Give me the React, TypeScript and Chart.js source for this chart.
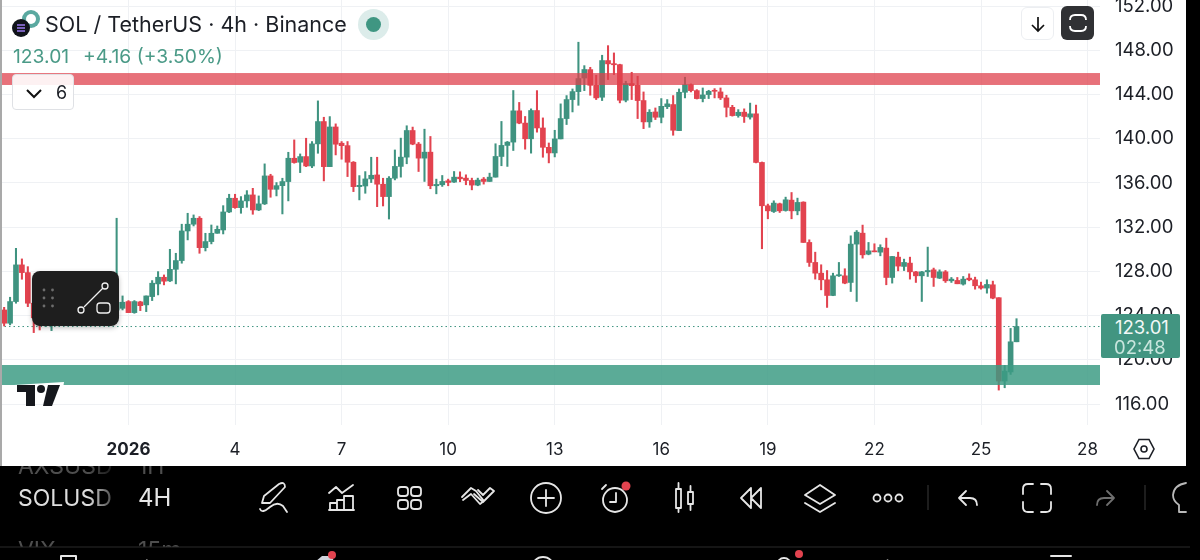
import { useEffect, useRef } from "react";
import { Chart, registerables } from "chart.js";

Chart.register(...registerables);

const FONT = "Inter, sans-serif";
const UP = "#3f9380";
const DOWN = "#e2434f";

// first candle sits 21 bars before 1 Jan 2026
const firstIndex = -21;

const opens = [
  124.51, 123.31, 125.27, 128.59, 127.89, 125.12, 123.8, 123.3, 123.2, 124.2,
  124.8, 125.4, 125.0, 125.6, 125.2, 124.7, 125.1, 124.6, 125.0, 124.5,
  124.66, 125.27, 124.27, 125.24, 124.97, 125.72, 126.87, 127.47, 127.14, 128.19,
  128.98, 131.66, 132.27, 132.81, 130.15, 130.7, 131.45, 131.75, 133.38, 134.62,
  133.77, 134.38, 134.92, 133.56, 134.11, 136.64, 135.43, 135.76, 136.13, 138.24,
  137.88, 138.39, 137.54, 139.54, 141.56, 137.48, 141.07, 139.6, 139.38, 137.88,
  135.67, 135.73, 136.37, 136.73, 135.89, 134.77, 136.43, 137.5, 138.34, 140.75,
  139.52, 138.25, 138.79, 135.75, 135.84, 136.2, 136.08, 136.53, 136.44, 136.23,
  135.81, 136.35, 136.14, 136.53, 138.4, 139.4, 139.7, 142.53, 141.42, 140.0,
  142.56, 140.98, 139.23, 138.72, 139.99, 141.83, 143.55, 144.27, 145.5, 146.26,
  144.84, 143.76, 147.08, 146.8, 146.71, 143.49, 145.0, 144.84, 143.46, 141.53,
  142.43, 141.95, 142.91, 143.1, 140.74, 144.21, 144.9, 144.36, 143.64, 144.0,
  144.36, 144.24, 143.7, 142.85, 142.1, 142.41, 141.96, 142.26, 137.86, 133.94,
  133.42, 134.12, 133.51, 134.45, 133.48, 134.27, 130.62, 128.81, 127.84, 127.24,
  125.82, 127.6, 127.6, 127.0, 130.47, 131.46, 129.56, 129.86, 129.74, 130.11,
  127.45, 129.29, 128.45, 128.75, 127.96, 127.6, 127.96, 128.14, 127.39, 127.96,
  127.15, 127.18, 126.85, 127.39, 127.24, 126.7, 126.49, 126.79, 125.62, 118.08,
  118.9, 121.63,
];
const highs = [
  124.75, 125.66, 130.09, 129.13, 128.43, 125.5, 124.3, 124.4, 124.6, 125.2,
  125.9, 125.8, 126.0, 126.0, 125.6, 125.5, 125.4, 125.4, 125.3, 132.81,
  125.78, 125.36, 125.36, 125.3, 125.78, 127.17, 127.98, 127.68, 130.0, 129.64,
  132.27, 133.26, 133.11, 132.96, 131.45, 132.2, 132.11, 133.95, 134.98, 134.98,
  134.77, 135.31, 135.52, 134.83, 137.73, 136.79, 136.04, 136.43, 138.78, 139.9,
  138.63, 140.05, 139.75, 143.43, 141.95, 142.01, 141.35, 139.75, 139.75, 137.94,
  136.67, 137.03, 138.33, 138.33, 136.43, 136.58, 138.99, 140.06, 141.18, 141.06,
  139.67, 140.87, 140.21, 136.35, 136.68, 136.35, 137.04, 137.01, 136.74, 136.44,
  136.44, 136.5, 136.89, 139.55, 141.57, 139.76, 144.37, 143.29, 142.02, 142.71,
  144.36, 141.89, 139.62, 140.77, 143.16, 143.91, 144.51, 148.74, 146.62, 146.47,
  145.75, 147.56, 148.43, 147.77, 146.75, 145.21, 146.02, 145.66, 144.24, 142.64,
  142.79, 143.64, 143.55, 143.91, 144.51, 145.57, 144.97, 144.45, 144.6, 144.39,
  144.54, 144.6, 143.94, 143.03, 142.64, 142.71, 143.23, 143.05, 137.9, 134.09,
  134.39, 134.18, 134.72, 135.14, 134.63, 134.3, 130.86, 129.74, 128.6, 128.08,
  127.84, 128.81, 128.24, 131.22, 131.7, 132.19, 130.62, 130.5, 130.41, 131.01,
  129.35, 129.74, 129.11, 129.29, 128.0, 128.0, 130.2, 128.3, 128.14, 128.08,
  127.45, 127.45, 127.54, 127.78, 127.48, 127.03, 127.24, 127.12, 125.62, 119.49,
  122.84, 123.72,
];
const lows = [
  123.06, 123.16, 125.12, 127.29, 124.81, 122.46, 122.7, 123.0, 122.64, 123.8,
  124.5, 124.7, 124.8, 124.9, 124.4, 124.3, 124.2, 124.3, 124.3, 124.1,
  124.51, 124.27, 124.21, 124.45, 124.36, 125.36, 125.87, 126.78, 127.08, 126.87,
  128.74, 130.85, 132.11, 129.64, 129.85, 130.49, 131.45, 131.39, 133.32, 133.71,
  133.26, 133.8, 133.17, 133.5, 134.05, 134.71, 134.83, 133.2, 134.38, 137.79,
  136.94, 137.48, 137.39, 138.69, 136.19, 137.48, 138.54, 138.15, 136.58, 135.22,
  134.47, 135.07, 136.04, 133.86, 133.92, 132.74, 136.28, 136.53, 137.74, 139.46,
  137.04, 136.14, 135.48, 135.02, 135.69, 135.75, 136.05, 136.11, 135.84, 135.38,
  135.75, 135.9, 136.14, 136.53, 137.56, 137.5, 138.94, 141.36, 139.06, 138.7,
  140.6, 138.33, 137.82, 138.36, 139.99, 141.29, 142.43, 143.03, 144.36, 143.94,
  143.55, 143.46, 145.36, 145.81, 143.25, 143.34, 143.55, 141.83, 140.92, 141.04,
  141.74, 141.44, 142.73, 140.32, 140.74, 143.7, 144.24, 143.6, 143.34, 143.64,
  143.7, 143.55, 141.98, 142.05, 141.95, 141.48, 141.78, 137.82, 130.05, 132.76,
  133.33, 133.33, 133.45, 132.76, 133.12, 130.62, 128.45, 127.3, 126.33, 124.74,
  125.8, 127.54, 126.88, 126.18, 125.28, 129.2, 129.5, 129.77, 129.41, 126.79,
  126.94, 128.05, 128.08, 127.3, 127.0, 125.28, 127.54, 126.64, 127.35, 127.0,
  127.0, 126.88, 126.76, 127.15, 126.39, 126.39, 126.03, 125.52, 117.26, 117.47,
  118.68, 121.63,
];
const closes = [
  123.31, 125.27, 128.59, 127.89, 125.12, 123.8, 123.3, 123.9, 124.2, 124.8,
  125.4, 125.0, 125.6, 125.2, 124.7, 125.1, 124.6, 125.0, 124.7, 125.2,
  125.21, 124.27, 125.27, 124.9, 125.78, 126.93, 127.47, 127.11, 128.19, 128.98,
  131.66, 132.27, 132.81, 130.15, 130.7, 131.45, 131.81, 133.38, 134.62, 133.77,
  134.38, 134.92, 133.56, 134.11, 136.64, 135.43, 135.76, 136.13, 138.24, 137.85,
  138.39, 137.54, 139.54, 141.56, 137.48, 141.07, 139.51, 139.38, 137.88, 135.67,
  135.79, 136.37, 136.7, 135.89, 134.77, 136.43, 137.5, 138.34, 140.75, 139.52,
  138.25, 138.79, 135.75, 135.87, 136.14, 136.05, 136.53, 136.38, 136.23, 135.81,
  136.26, 136.14, 136.53, 138.4, 139.4, 139.7, 142.53, 141.42, 140.0, 142.56,
  140.98, 139.23, 138.72, 139.99, 141.83, 143.55, 144.27, 145.45, 146.27, 144.84,
  143.7, 147.08, 146.78, 146.7, 143.49, 145.0, 144.81, 143.46, 141.53, 142.4,
  141.95, 142.94, 143.16, 140.77, 144.21, 144.9, 144.36, 143.64, 143.97, 144.3,
  144.3, 143.7, 142.85, 142.1, 142.4, 142.02, 142.26, 137.86, 133.94, 133.48,
  134.18, 133.48, 134.48, 133.48, 134.24, 130.62, 128.81, 127.84, 127.24, 125.82,
  127.6, 127.7, 126.94, 130.47, 131.55, 129.5, 129.86, 129.77, 130.17, 127.45,
  129.35, 128.48, 128.81, 127.96, 127.6, 127.96, 128.08, 127.45, 127.96, 127.15,
  127.3, 126.88, 127.3, 127.24, 126.7, 126.49, 126.82, 125.58, 118.08, 118.98,
  121.63, 123.01,
];

const lastPrice = 123.01;
const priceTicks = [116, 120, 124, 128, 132, 136, 140, 144, 148, 152];
const dayTicks = [0, 18, 36, 54, 72, 90, 108, 126, 144, 162];
const dayLabels = ["2026", "4", "7", "10", "13", "16", "19", "22", "25", "28"];
const resistanceZone = [144.87, 145.95];
const supportZone = [117.72, 119.53];

const xMin = -21.7;
const xMax = 164.1;

const zonesPlugin = {
  id: "zones",
  afterDatasetsDraw(chart: Chart) {
    const { ctx, chartArea, scales } = chart;
    const band = (zone: number[], color: string) => {
      const top = scales.y.getPixelForValue(zone[1]);
      const bottom = scales.y.getPixelForValue(zone[0]);
      ctx.fillStyle = color;
      ctx.fillRect(chartArea.left, top, chartArea.right - chartArea.left, bottom - top);
    };
    ctx.save();
    band(resistanceZone, "rgba(223,63,75,0.74)");
    band(supportZone, "rgba(59,155,131,0.84)");
    ctx.restore();
  },
};

function CandleChart() {
  const ref = useRef<HTMLCanvasElement>(null);

  useEffect(() => {
    if (!ref.current) return;
    const xs = opens.map((_, i) => firstIndex + i);
    const colors = opens.map((o, i) => (closes[i] >= o ? UP : DOWN));
    const chart = new Chart(ref.current, {
      type: "bar",
      data: {
        datasets: [
          {
            type: "line",
            data: [
              { x: xMin, y: lastPrice },
              { x: xMax, y: lastPrice },
            ],
            borderColor: UP,
            borderWidth: 1,
            borderDash: [1.5, 3],
            pointRadius: 0,
            order: 3,
          },
          {
            data: xs.map((x, i) => ({ x, y: [lows[i], highs[i]] })),
            backgroundColor: colors,
            barThickness: 1.4,
            grouped: false,
            order: 2,
          },
          {
            data: xs.map((x, i) => ({ x, y: [Math.min(opens[i], closes[i]), Math.max(opens[i], closes[i])] })),
            backgroundColor: colors,
            barThickness: 5,
            minBarLength: 1,
            grouped: false,
            order: 1,
          },
        ] as any,
      },
      options: {
        responsive: false,
        animation: false,
        layout: { padding: 0 },
        plugins: { legend: { display: false }, tooltip: { enabled: false } },
        scales: {
          x: {
            type: "linear",
            offset: false,
            min: xMin,
            max: xMax,
            afterBuildTicks: (s: any) => {
              s.ticks = dayTicks.map((value) => ({ value }));
            },
            afterFit: (s: any) => {
              s.height = 41;
            },
            grid: { color: "#eff1f4", drawTicks: false, offset: false },
            border: { display: false },
            ticks: {
              autoSkip: false,
              maxRotation: 0,
              padding: 15,
              color: "#1c1f26",
              font: (c: any) => ({
                family: FONT,
                size: 17,
                weight: c.tick && c.tick.value === 0 ? "bold" : "normal",
              }),
              callback: (v: any) => dayLabels[dayTicks.indexOf(v)],
            },
          },
          y: {
            position: "right",
            min: 114.1,
            max: 152.56,
            afterBuildTicks: (s: any) => {
              s.ticks = priceTicks.map((value) => ({ value }));
            },
            afterFit: (s: any) => {
              s.width = 86;
              s.paddingTop = 0;
              s.paddingBottom = 0;
            },
            grid: { color: "#eff1f4", drawTicks: false },
            border: { display: false },
            ticks: {
              padding: 15,
              color: "#1c1f26",
              font: { family: FONT, size: 18.5 },
              callback: (v: any) => Number(v).toFixed(2),
            },
          },
        },
      },
      plugins: [zonesPlugin],
    });
    return () => chart.destroy();
  }, []);

  return <canvas ref={ref} width={1186} height={466} style={{ position: "absolute", left: 0, top: 0, width: 1186, height: 466, display: "block" }} />;
}

function Label({ x, y, size, color, weight, children }: any) {
  return (
    <div
      style={{
        position: "absolute",
        left: x,
        top: y,
        fontSize: size,
        color,
        fontWeight: weight ?? 400,
        lineHeight: 1,
        whiteSpace: "nowrap",
        transform: "translateY(-50%)",
      }}
    >
      {children}
    </div>
  );
}

function ToolbarIcons() {
  const s = { fill: "none", stroke: "#e6e6e6", strokeWidth: 1.8, strokeLinecap: "round", strokeLinejoin: "round" } as any;
  return (
    <svg width={1200} height={560} style={{ position: "absolute", left: 0, top: 0 }}>
      {/* pen */}
      <path {...s} d="M262 503 L264 496 L279 484 Q285 481 285 487 L270 503 Z M260 509 Q262 514 270 507 Q277 501 283 506 L287 512" />
      {/* indicators */}
      <path {...s} d="M329 493 L336 487 L342 493 L353 485 M330 510 V503 H337 V510 M337 510 V500 H344 V510 M344 510 V496 H353 V510 M329 510 H354" />
      {/* apps */}
      <rect {...s} x={398} y={487} width={10} height={9} rx={3} />
      <rect {...s} x={411} y={487} width={10} height={9} rx={3} />
      <rect {...s} x={398} y={500} width={10} height={9} rx={3} />
      <rect {...s} x={411} y={500} width={10} height={9} rx={3} />
      {/* compare */}
      <path {...s} d="M463 500 L471 494 L480 504 L484 501 L476 491 L471 488 L462 497 M474 494 L483 502 L494 491 L490 488 L483 495 L478 490" />
      {/* add */}
      <circle {...s} cx={546} cy={498} r={15} />
      <path {...s} d="M546 490 V506 M538 498 H554" />
      {/* alert */}
      <circle {...s} cx={615} cy={500} r={12} />
      <path {...s} d="M616 493 V502 H610 M602 489 L606 485" />
      <circle cx={626} cy={486} r={4.5} fill="#e2434f" />
      {/* candles */}
      <path {...s} d="M676 489 H681 V508 H676 Z M678.5 489 V483 M678.5 508 V512 M688 492 H693 V504 H688 Z M690.5 492 V486 M690.5 504 V510" />
      {/* replay */}
      <path {...s} d="M751 488 L741 498 L751 508 Z M761 488 L751 498 L761 508 Z" />
      {/* layers */}
      <path {...s} d="M820 485 L835 495 L820 504 L805 495 Z M805 503 L820 512 L835 503" />
      {/* more */}
      <circle {...s} cx={877} cy={498} r={3.5} />
      <circle {...s} cx={888} cy={498} r={3.5} />
      <circle {...s} cx={899} cy={498} r={3.5} />
      <path d="M928 485 V510" stroke="#3a3a3a" strokeWidth={1} />
      {/* undo */}
      <path {...s} d="M966 491 L959 498 L966 505 M959 498 H970 Q977 498 977 505" />
      {/* fullscreen */}
      <path {...s} d="M1023 494 V489 Q1023 484 1028 484 H1033 M1041 484 H1046 Q1051 484 1051 489 V494 M1023 502 V507 Q1023 512 1028 512 H1033 M1041 512 H1046 Q1051 512 1051 507 V502" />
      {/* redo */}
      <path {...s} stroke="#6f6f6f" d="M1107 491 L1114 498 L1107 505 M1114 498 H1104 Q1097 498 1097 505" />
      <path d="M1145 485 V510" stroke="#3a3a3a" strokeWidth={1} />
      {/* bulb */}
      <path {...s} d="M1186 483 Q1174 485 1173 495 Q1173 501 1179 505 V512 H1186" stroke="#b9b9b9" />
      {/* bottom nav */}
      <rect {...s} x={61} y={556} width={15} height={14} strokeWidth={2} />
      <path d="M315 562 L322 556 L332 556 L334 562 Z" fill="#cfd3dc" />
      <circle cx={332} cy={555} r={4} fill="#e2434f" />
      <circle {...s} cx={543} cy={568} r={11} />
      <circle {...s} cx={784} cy={565} r={7} />
      <circle cx={799} cy={554} r={4} fill="#e2434f" />
      <path {...s} d="M1051 556 H1071" strokeWidth={2} />
      <path d="M0 547 H1190" stroke="#2a2a2a" strokeWidth={1} />
    </svg>
  );
}

export default function App() {
  return (
    <div style={{ position: "absolute", left: 0, top: 0, width: 1200, height: 560, background: "#000", overflow: "hidden", fontFamily: FONT }}>
      <div style={{ position: "absolute", left: 0, top: 0, width: 1186, height: 466, background: "#fff" }} />
      <CandleChart />
      <div style={{ position: "absolute", left: 0, top: 0, width: 1.5, height: 466, background: "#a9a9a9" }} />

      {/* legend */}
      <svg width={40} height={40} style={{ position: "absolute", left: 10, top: 8 }}>
        <circle cx={21} cy={11} r={9} fill="#5aa9a0" />
        <circle cx={21} cy={11} r={5} fill="#fff" />
        <circle cx={11} cy={20} r={9} fill="#10131a" />
        <path d="M7 17 H15 M7 20 H15 M7 23 H15" stroke="#9a7bf0" strokeWidth={1.6} />
      </svg>
      <Label x={45} y={25} size={21.5} color="#1c1f26">SOL / TetherUS · 4h · Binance</Label>
      <Label x={13} y={57} size={19.3} color="#4a9a87">123.01</Label>
      <Label x={83} y={57} size={19.3} color="#4a9a87">+4.16 (+3.50%)</Label>
      <div style={{ position: "absolute", left: 358, top: 9, width: 31, height: 31, borderRadius: "50%", background: "#dcecea" }} />
      <div style={{ position: "absolute", left: 366, top: 17, width: 15, height: 15, borderRadius: "50%", background: "#3f9682" }} />

      <div style={{ position: "absolute", left: 12, top: 74, width: 62, height: 36, background: "rgba(255,255,255,0.9)", border: "1px solid #dfe1e5", borderRadius: 4, boxSizing: "border-box" }} />
      <svg width={20} height={12} style={{ position: "absolute", left: 25, top: 88 }}>
        <path d="M2 2 L9 9 L16 2" fill="none" stroke="#111" strokeWidth={2} />
      </svg>
      <Label x={56} y={93} size={18} color="#1c1f26">6</Label>

      {/* top-right buttons */}
      <div style={{ position: "absolute", left: 1021, top: 7, width: 33, height: 33, background: "#fff", border: "1px solid #eceef1", borderRadius: 6, boxSizing: "border-box" }} />
      <svg width={16} height={18} style={{ position: "absolute", left: 1030, top: 16 }}>
        <path d="M8 1 V15 M2 9 L8 15 L14 9" fill="none" stroke="#111" strokeWidth={1.7} />
      </svg>
      <div style={{ position: "absolute", left: 1061, top: 6, width: 33, height: 34, background: "#303134", borderRadius: 6 }} />
      <svg width={18} height={18} style={{ position: "absolute", left: 1069, top: 14 }}>
        <path d="M1 6 Q1 1 6 1 H12 Q17 1 17 6 M1 12 Q1 17 6 17 H12 Q17 17 17 12" fill="none" stroke="#fff" strokeWidth={1.8} />
      </svg>

      {/* drawing tool */}
      <div style={{ position: "absolute", left: 32, top: 271, width: 87, height: 55, background: "#1e1e1e", borderRadius: 8, boxShadow: "0 2px 5px rgba(0,0,0,0.25)" }} />
      <svg width={87} height={55} style={{ position: "absolute", left: 32, top: 271 }}>
        {[0, 1, 2].map((r) => [0, 1].map((c) => <circle key={r + "-" + c} cx={12 + c * 8.5} cy={19 + r * 8} r={1.4} fill="#6d6d6d" />))}
        <path d="M52 36 L71 17" stroke="#f0f0f0" strokeWidth={1.3} />
        <circle cx={49} cy={39} r={3} fill="none" stroke="#f0f0f0" strokeWidth={1.3} />
        <circle cx={73} cy={15} r={3} fill="none" stroke="#f0f0f0" strokeWidth={1.3} />
        <rect x={65} y={32} width={13} height={10} rx={3} fill="none" stroke="#f0f0f0" strokeWidth={1.3} />
      </svg>

      {/* TV logo */}
      <svg width={52} height={28} style={{ position: "absolute", left: 13, top: 381 }}>
        <path d="M1 4 L51 1 L50 8 H1 Z" fill="#fff" />
        <path d="M4 4 H22 V25 H13 V11 H4 Z" fill="#16181d" />
        <circle cx={28} cy={8} r={4} fill="#16181d" />
        <path d="M35 4 H47 L39 25 H30 Z" fill="#16181d" />
      </svg>

      {/* last price tag */}
      <div style={{ position: "absolute", left: 1101, top: 314, width: 79, height: 44, background: "#429581", borderRadius: 2 }} />
      <Label x={1115} y={327} size={18.5} color="#f2f8f6">123.01</Label>
      <Label x={1114} y={347} size={18.5} color="#c9e6de">02:48</Label>

      {/* settings hexagon */}
      <svg width={24} height={24} style={{ position: "absolute", left: 1132, top: 437 }}>
        <path d="M7 2.5 H17 L22 12 L17 21.5 H7 L2 12 Z" fill="none" stroke="#1c1f26" strokeWidth={1.6} />
        <circle cx={12} cy={12} r={3} fill="none" stroke="#1c1f26" strokeWidth={1.6} />
      </svg>

      {/* bottom toolbar, symbol list scrolled and clipped */}
      <div style={{ position: "absolute", left: 0, top: 466, width: 190, height: 81, overflow: "hidden" }}>
        <Label x={18} y={0} size={23} color="#4e4e4e">AXSUSD</Label>
        <Label x={138} y={0} size={23} color="#4e4e4e">1H</Label>
        <Label x={18} y={32} size={23} color="#dedede">SOLUSD</Label>
        <Label x={138} y={32} size={24} color="#e6e6e6">4H</Label>
        <Label x={18} y={84} size={23} color="#4e4e4e">VIX</Label>
        <Label x={138} y={84} size={23} color="#4e4e4e">15m</Label>
        <div style={{ position: "absolute", left: 88, top: 0, width: 27, height: 81, background: "linear-gradient(to right, rgba(0,0,0,0), rgba(0,0,0,0.75))" }} />
      </div>
      <ToolbarIcons />
      <Label x={90} y={567} size={17} color="#dcdcdc">Watchlist</Label>
      <Label x={348} y={567} size={17} color="#dcdcdc">Chart</Label>
      <Label x={571} y={567} size={17} color="#dcdcdc">Explore</Label>
      <Label x={813} y={567} size={17} color="#dcdcdc">Community</Label>
      <Label x={1083} y={567} size={17} color="#dcdcdc">Menu</Label>
    </div>
  );
}
